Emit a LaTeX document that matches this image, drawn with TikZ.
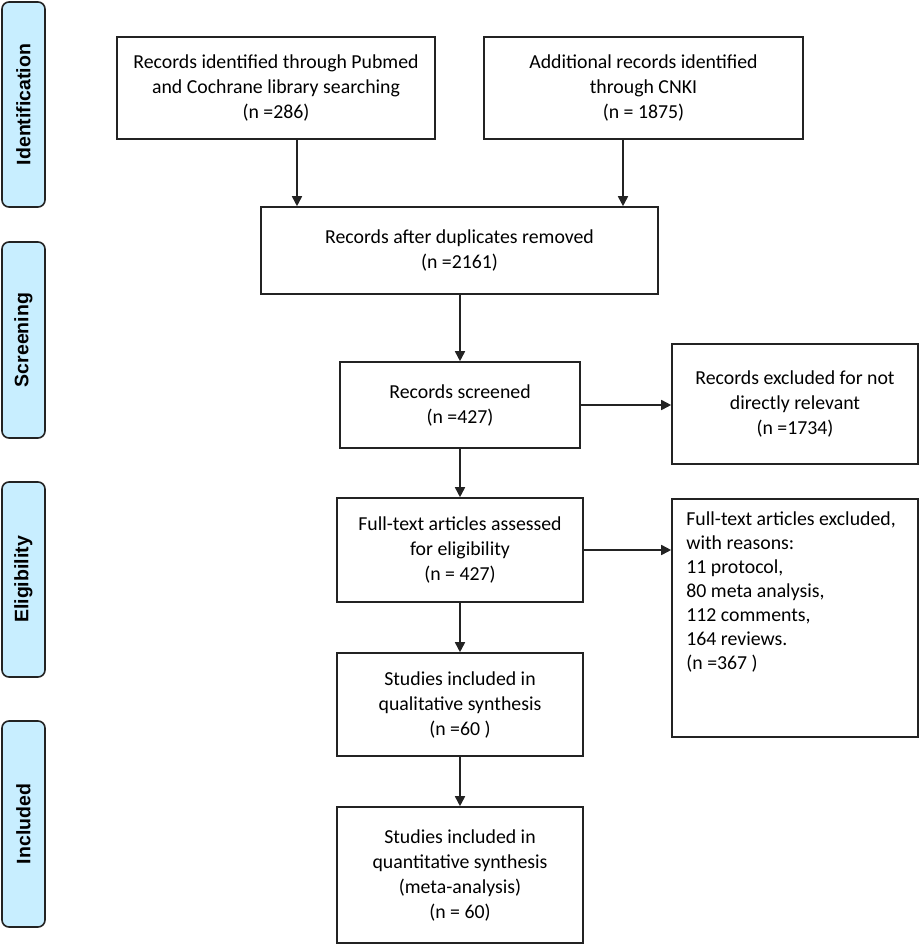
\documentclass[tikz,border=0pt]{standalone}
\usepackage{fontspec}
\setmainfont{Carlito}
\newfontfamily\sidefont{Liberation Sans}
\usetikzlibrary{arrows.meta}
\definecolor{sideblue}{RGB}{200,238,255}
\definecolor{edge}{RGB}{35,35,35}
\begin{document}
\begin{tikzpicture}[x=1pt,y=-1pt,
  box/.style={draw=edge, line width=1.6pt, inner sep=0pt, align=center,
    font=\fontsize{19.8}{25}\selectfont},
  side/.style={draw=edge, fill=sideblue, line width=1.6pt, rounded corners=7pt,
    rotate=90, minimum height=43pt, inner sep=0pt,
    font=\sidefont\bfseries\fontsize{19.5}{22}\selectfont},
  arr/.style={draw=edge, line width=1.7pt, -{Triangle[length=10pt,width=10pt]}}]
\useasboundingbox (0,0) rectangle (920,946);
% phase labels
\node[side, minimum width=205pt] (s1) at (23.5,104.5) {Identification};
\node[side, minimum width=196pt] (s2) at (23.5,340) {Screening};
\node[side, minimum width=195pt] (s3) at (23.5,579.5) {Eligibility};
\node[side, minimum width=206pt] (s4) at (23.5,824) {Included};
% boxes
\node[box, minimum width=318pt, minimum height=102pt] (A) at (276,88)
  {Records identified through Pubmed\\and Cochrane library searching\\(n =286)};
\node[box, minimum width=319pt, minimum height=102pt] (B) at (643.5,88)
  {Additional records identified\\through CNKI\\(n = 1875)};
\node[box, minimum width=397pt, minimum height=87pt] (C) at (459.5,250.5)
  {Records after duplicates removed\\(n =2161)};
\node[box, minimum width=240pt, minimum height=86pt] (D) at (460,405)
  {Records screened\\(n =427)};
\node[box, minimum width=246pt, minimum height=120pt] (E) at (795,404)
  {Records excluded for not\\directly relevant\\(n =1734)};
\node[box, minimum width=246pt, minimum height=104pt] (F) at (460,550)
  {Full-text articles assessed\\for eligibility\\(n = 427)};
\node[box, minimum width=246pt, minimum height=238pt] (I) at (795,618) {};
\node[anchor=north west, inner sep=0pt, align=left,
  font=\fontsize{19.8}{24}\selectfont] (It) at ([shift={(15,13)}]I.north west)
  {Full-text articles excluded,\\with reasons:\\11 protocol,\\80 meta analysis,\\112 comments,\\164 reviews.\\(n =367 )};
\node[box, minimum width=246pt, minimum height=103pt] (G) at (460,704.5)
  {Studies included in\\qualitative synthesis\\(n =60 )};
\node[box, minimum width=246pt, minimum height=136pt] (H) at (460,875)
  {Studies included in\\quantitative synthesis\\(meta-analysis)\\(n = 60)};
% connectors
\draw[arr] ([xshift=21pt]A.south) -- ([xshift=21pt]A.south |- C.north);
\draw[arr] ([xshift=-20.5pt]B.south) -- ([xshift=-20.5pt]B.south |- C.north);
\draw[arr] (C.south -| D.north) -- (D.north);
\draw[arr] (D.east) -- (D.east -| E.west);
\draw[arr] (D.south -| F.north) -- (F.north);
\draw[arr] (F.east) -- (F.east -| I.west);
\draw[arr] (F.south) -- (G.north);
\draw[arr] (G.south) -- (H.north);
\end{tikzpicture}
\end{document}
